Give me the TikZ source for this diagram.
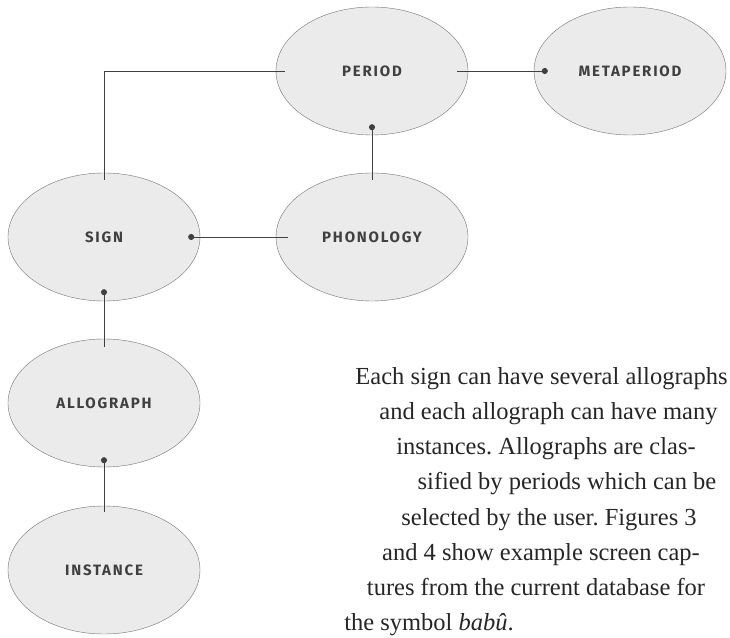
\documentclass[tikz,border=0pt]{standalone}
\usepackage{fontspec}
\setmainfont{Liberation Serif}
\newfontfamily\ovalfont[LetterSpace=12]{Fira Sans}
\usetikzlibrary{shapes.geometric,arrows.meta}
\frenchspacing
\begin{document}
\begin{tikzpicture}[x=1pt,y=1pt,
  oval/.style={ellipse,draw=black!55,fill=black!8,minimum width=192pt,minimum height=128pt,inner sep=0pt,text=black!75,font=\ovalfont\bfseries\fontsize{15pt}{17pt}\selectfont},
  link/.style={draw=black!75,line width=0.9pt},
  blobstart/.style={{Circle[length=6pt,width=6pt]}-},
  blobend/.style={-{Circle[length=6pt,width=6pt]}},
  txt/.style={anchor=base,inner sep=0pt,text=black!85,font=\fontsize{24.5pt}{30pt}\selectfont}]
\useasboundingbox (0,0) rectangle (730,637);
\node[oval] (period) at (372,566) {PERIOD};
\node[oval] (meta) at (630,566) {METAPERIOD};
\node[oval] (sign) at (104,400) {SIGN};
\node[oval] (phon) at (372,400) {PHONOLOGY};
\node[oval] (allo) at (104,234) {ALLOGRAPH};
\node[oval] (inst) at (104,67) {INSTANCE};

\draw[link,shorten <=-7pt,shorten >=-9pt] (sign.north) |- (period.west);
\draw[link,blobend,shorten <=-11pt,shorten >=-14pt] (period.east) -- (meta.west);
\draw[link,blobstart,shorten <=-11pt,shorten >=-7pt] (period.south) -- (phon.north);
\draw[link,blobstart,shorten <=-12pt,shorten >=-12pt] (sign.east) -- (phon.west);
\draw[link,blobstart,shorten <=-12pt,shorten >=-8pt] (sign.south) -- (allo.north);
\draw[link,blobstart,shorten <=-10pt,shorten >=-6pt] (allo.south) -- (inst.north);

\node[txt] (t1) at (541.5,252) {Each sign can have several allographs};
\node[txt] (t2) at (548.5,217) {and each allograph can have many};
\node[txt] (t3) at (546,182) {instances. Allographs are clas-};
\node[txt] (t4) at (567,147) {sified by periods which can be};
\node[txt] (t5) at (549,112) {selected by the user. Figures 3};
\node[txt] (t6) at (541,77) {and 4 show example screen cap-};
\node[txt] (t7) at (536,42) {tures from the current database for};
\node[txt] (t8) at (429,7) {the symbol \textit{babû}.};
\end{tikzpicture}
\end{document}
